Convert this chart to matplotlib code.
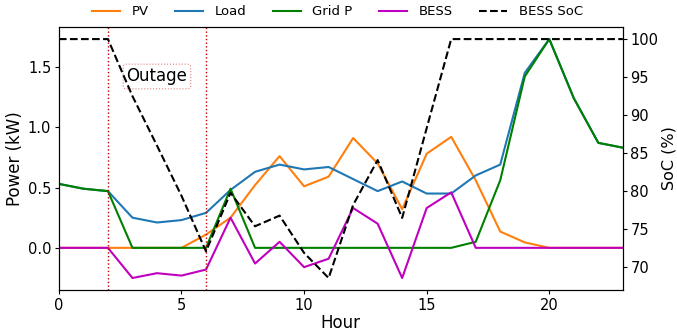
"""
Microgrid dispatch during an outage: power flows and BESS state of charge
"""

import matplotlib
matplotlib.use('Agg')
import matplotlib.pyplot as plt
from matplotlib.ticker import MultipleLocator

hours = list(range(24))

pv = [0, 0, 0, 0, 0, 0, 0.11, 0.25, 0.52, 0.76, 0.51, 0.59,
      0.91, 0.70, 0.32, 0.78, 0.92, 0.56, 0.135, 0.045, 0, 0, 0, 0]
load = [0.53, 0.49, 0.47, 0.25, 0.21, 0.23, 0.29, 0.48, 0.63, 0.69, 0.65, 0.67,
        0.57, 0.47, 0.55, 0.45, 0.45, 0.60, 0.69, 1.45, 1.73, 1.24, 0.87, 0.83]
grid_p = [0.53, 0.49, 0.47, 0, 0, 0, 0, 0.49, 0, 0, 0, 0,
          0, 0, 0, 0, 0, 0.05, 0.56, 1.42, 1.73, 1.24, 0.87, 0.83]
bess = [0, 0, 0, -0.25, -0.21, -0.23, -0.18, 0.25, -0.13, 0.05, -0.16, -0.09,
        0.33, 0.20, -0.25, 0.33, 0.46, 0, 0, 0, 0, 0, 0, 0]
soc = [100, 100, 100, 92.5, 86, 79.4, 72.1, 79.8, 75.4, 76.8, 71.9, 68.6,
       78.2, 84.1, 76.5, 88.3, 100, 100, 100, 100, 100, 100, 100, 100]

outage_start, outage_end = 2, 6

fig = plt.figure(figsize=(6.77, 3.31), dpi=100)
ax = fig.add_axes([0.087, 0.124, 0.833, 0.794])
ax2 = ax.twinx()

# power curves
l1, = ax.plot(hours, pv, color='tab:orange', label='PV')
l2, = ax.plot(hours, load, color='tab:blue', label='Load')
l3, = ax.plot(hours, grid_p, color='green', label='Grid P')
l4, = ax.plot(hours, bess, color='m', label='BESS')

# state of charge on right axis
l5, = ax2.plot(hours, soc, 'k--', label='BESS SoC')

# outage window
for h in (outage_start, outage_end):
    ax.axvline(h, color='#c00000', linestyle=':', linewidth=1)
ax.text(4, 1.42, 'Outage', fontsize=12, ha='center', va='center',
        bbox=dict(boxstyle='round,pad=0.2', facecolor='white',
                  edgecolor='#e08080', linestyle=':', linewidth=0.8))

ax.set_xlim(0, 23)
ax.yaxis.set_major_locator(MultipleLocator(0.5))
ax.set_xlabel('Hour', fontsize=12, labelpad=1)
ax.set_ylabel('Power (kW)', fontsize=12, labelpad=2.5)
ax2.set_ylabel('SoC (%)', fontsize=11.5, labelpad=2)
ax.tick_params(labelsize=10.5, length=3, pad=2.5)
ax2.tick_params(labelsize=10.5, length=3, pad=2.5)

ax.legend(handles=[l1, l2, l3, l4, l5], loc='upper left',
          bbox_to_anchor=(0.128, 1.0), bbox_transform=fig.transFigure,
          borderaxespad=0, ncol=5, frameon=False, fontsize=9.5,
          handlelength=2.15, handletextpad=0.85, columnspacing=2.0)

fig.savefig('out.png', dpi=100)
